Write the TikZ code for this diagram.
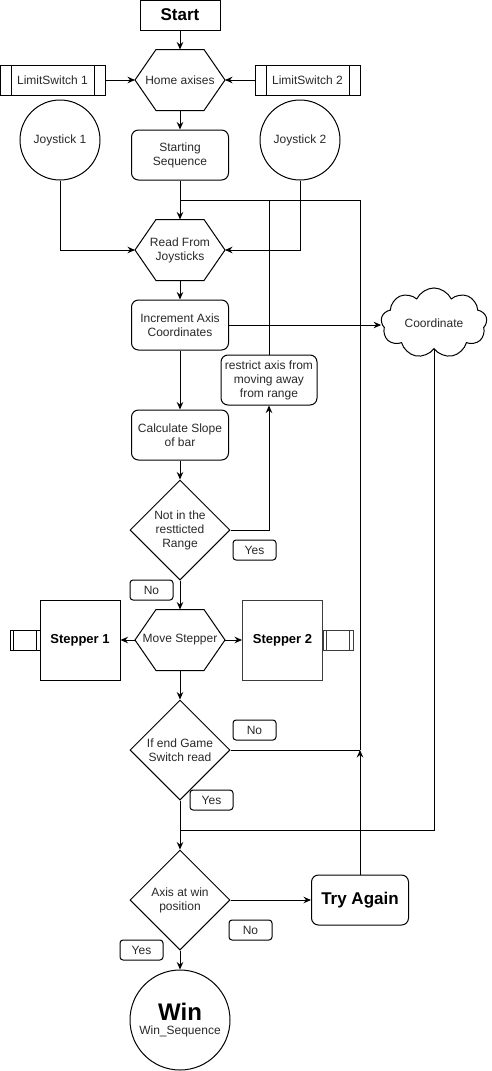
\documentclass[tikz,border=0pt]{standalone}
\usepackage{fontspec}
\setmainfont{Liberation Sans}
\usepackage{tikz}
\usetikzlibrary{shapes.geometric,shapes.symbols,arrows.meta,positioning}
\definecolor{inkcolor}{RGB}{40,40,40}
\definecolor{edgecolor}{RGB}{60,60,60}

\begin{document}
\begin{tikzpicture}[
    x=1pt, y=-1pt, line width=1pt,
    font=\fontsize{12}{14}\selectfont, text=inkcolor,
    proc/.style={rectangle, draw, rounded corners=7pt, minimum width=97pt, minimum height=50pt, inner sep=0pt, align=center},
    hexa/.style={rectangle, minimum width=89pt, minimum height=60pt, inner sep=0pt, align=center},
    decision/.style={diamond, draw, aspect=1, minimum width=100pt, minimum height=100pt, inner sep=0pt, align=center},
    subproc/.style={rectangle, draw, minimum width=105pt, minimum height=30pt, inner sep=0pt,
        path picture={\draw ([xshift=#1]path picture bounding box.north west) -- ([xshift=#1]path picture bounding box.south west)
            ([xshift=-#1]path picture bounding box.north east) -- ([xshift=-#1]path picture bounding box.south east);}},
    subproc/.default=11pt,
    port/.style={subproc=3.5pt, minimum width=30pt, minimum height=20pt},
    motor/.style={rectangle, draw, minimum width=80pt, minimum height=80pt, inner sep=0pt, font=\fontsize{13}{15}\selectfont\bfseries, text=black},
    tag/.style={rectangle, draw, rounded corners=3pt, minimum width=43pt, minimum height=20pt, inner sep=0pt},
    sensor/.style={circle, draw, minimum size=80pt, inner sep=0pt},
    big/.style={font=\fontsize{17}{20}\selectfont\bfseries, text=black},
    arr/.style={-{Stealth[length=7.5pt,width=6.5pt,inset=2.5pt]}},
]
    \useasboundingbox (0,0) rectangle (491,1071);

    % Start and homing
    \node[rectangle, draw, minimum width=80pt, minimum height=30pt, inner sep=0pt, big] (start) at (180,15) {Start};
    \node[hexa] (home) at (180,80) {Home axises};
    \node[subproc] (ls1) at (52.5,80) {LimitSwitch 1};
    \node[subproc] (ls2) at (307.5,80) {LimitSwitch 2};

    % Inputs
    \node[sensor] (joy1) at (60,140) {Joystick 1};
    \node[sensor] (joy2) at (300,140) {Joystick 2};
    \node[proc] (seq) at (180,155) {Starting\\Sequence};

    % Main loop
    \node[hexa] (read) at (180,250) {Read From\\Joysticks};
    \node[proc] (inc) at (180,325) {Increment Axis\\Coordinates};
    \node[cloud, draw, cloud puffs=9, cloud puff arc=130, aspect=1.5, minimum width=106pt, minimum height=70pt, inner sep=0pt] (coord) at (434,323) {Coordinate};
    \node[proc, minimum width=96pt] (restrict) at (269,380) {restrict axis from\\moving away\\from range};
    \node[proc] (slope) at (180,435) {Calculate Slope\\of bar};
    \node[decision] (range) at (180,530) {Not in the\\restticted\\Range};
    \node[tag] (yes1) at (254.5,550) {Yes};
    \node[tag] (no1) at (151.5,590) {No};

    % Steppers
    \node[hexa] (move) at (180,640) {Move Stepper};
    \node[motor] (step1) at (80,640) {Stepper 1};
    \node[motor, draw=edgecolor] (step2) at (282.5,640) {Stepper 2};
    \node[port] (port1) at (25,640) {};
    \node[port, draw=edgecolor] (port2) at (338,640) {};

    % End of game
    \node[decision] (endgame) at (180,750) {If end Game\\Switch read};
    \node[tag] (no2) at (254.5,730) {No};
    \node[tag] (yes2) at (211.5,800) {Yes};
    \node[decision] (atwin) at (180,900) {Axis at win\\position};
    \node[proc, big] (retry) at (360,900) {Try Again};
    \node[tag] (no3) at (250.5,930) {No};
    \node[tag] (yes3) at (141.5,950) {Yes};
    \node[circle, draw, minimum size=100pt, inner sep=0pt, align=center] (win) at (180,1020) {{\fontsize{24}{26}\selectfont\bfseries\color{black}Win}\\Win\_Sequence};

    % Hexagon outlines
    \foreach \h in {home, read, move} {
        \draw (\h.west) -- ([xshift=21pt]\h.north west) -- ([xshift=-21pt]\h.north east) -- (\h.east)
            -- ([xshift=-21pt]\h.south east) -- ([xshift=21pt]\h.south west) -- cycle;
    }

    % Junctions
    \coordinate (loop) at (180,200);
    \coordinate (join) at (360,750);
    \coordinate (merge) at (180,830);

    % Arrows
    \draw[arr] (start) -- (home);
    \draw[arr] (ls1) -- (home);
    \draw[arr] (ls2) -- (home);
    \draw[arr] (home) -- (seq);
    \draw[arr] (seq) -- (read);
    \draw[arr] (joy1.south) |- (read.west);
    \draw[arr] (joy2.south) |- (read.east);
    \draw[arr] (read) -- (inc);
    \draw[arr] (inc.east) -- (inc.east -| coord.west);
    \draw[arr] (inc) -- (slope);
    \draw[arr] (slope) -- (range);
    \draw[arr] (range.east) -| (restrict.south);
    \draw (restrict.north) |- (loop);
    \draw[arr] (range) -- (move);
    \foreach \m in {step1, step2} {
        \draw[arr] (move) -- (\m);
    }
    \draw[arr] (move) -- (endgame);
    \draw (endgame.east) -- (join);
    \draw[arr] (retry.north) -- (join);
    \draw (join) |- (loop);
    \draw (coord.south) |- (merge);
    \draw[arr] (endgame) -- (atwin);
    \draw[arr] (atwin) -- (retry);
    \draw[arr] (atwin) -- (win);
\end{tikzpicture}
\end{document}
